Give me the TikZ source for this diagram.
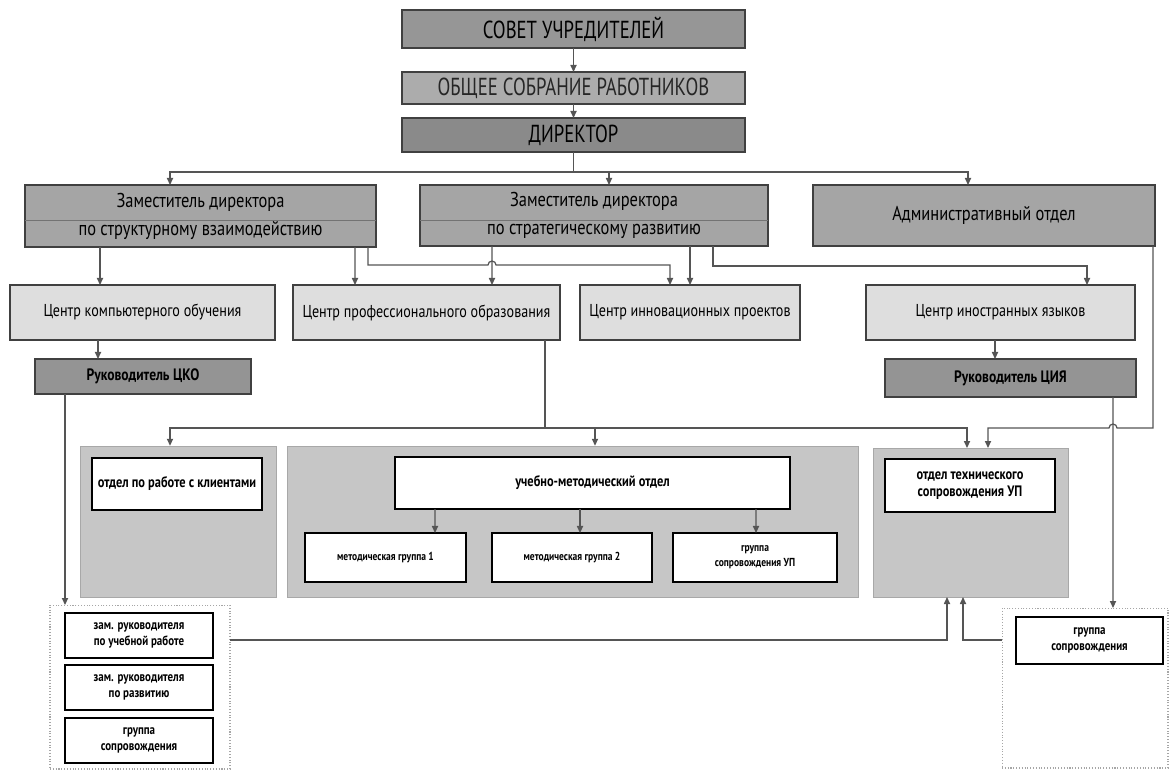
\documentclass[tikz,border=0pt]{standalone}
\usepackage{fontspec}
\setmainfont{PT Sans}[FakeStretch=0.82]
\newfontfamily\capsfont{PT Sans}[FakeStretch=0.76]
\usetikzlibrary{arrows.meta,calc}

\definecolor{sovetgray}{RGB}{150,150,150}
\definecolor{sobrgray}{RGB}{172,172,172}
\definecolor{dirgray}{RGB}{138,138,138}
\definecolor{zamgray}{RGB}{165,165,165}
\definecolor{centrgray}{RGB}{222,222,222}
\definecolor{rukgray}{RGB}{148,148,148}
\definecolor{panelgray}{RGB}{198,198,198}
\definecolor{linegray}{RGB}{85,85,85}

\tikzset{
    box/.style = {draw = black!75, line width = 0.7pt, inner sep = 0pt, outer sep = 0pt, align = center},
    topbox/.style = {box, minimum width = 6.86cm, font = \capsfont\fontsize{14}{16}\selectfont},
    zambox/.style = {box, fill = zamgray, font = \fontsize{11.4}{16}\selectfont},
    centrbox/.style = {box, fill = centrgray, minimum height = 1.1cm, font = \fontsize{9.8}{11}\selectfont},
    rukbox/.style = {box, fill = rukgray, font = \bfseries\fontsize{9.4}{11}\selectfont},
    panel/.style = {fill = panelgray, draw = panelgray!85!black, line width = 0.3pt, inner sep = 0pt, outer sep = 0pt, minimum height = 3.03cm},
    whitebox/.style = {draw = black, fill = white, line width = 1.3pt, inner sep = 0pt, outer sep = 0pt, align = center, font = \bfseries\fontsize{8.6}{9.4}\selectfont},
    smallbox/.style = {whitebox, font = \bfseries\fontsize{6.6}{8.6}\selectfont},
    zbox/.style = {whitebox, font = \bfseries\fontsize{7.6}{9}\selectfont},
    dotbox/.style = {draw = gray!70, densely dotted, line width = 0.6pt, fill = white, inner sep = 0pt, outer sep = 0pt},
    line/.style = {draw = linegray, line width = 0.7pt},
    arr/.style = {line, -{Triangle[length = 4pt, width = 3.5pt]}},
    sepline/.style = {draw = black!55, line width = 0.5pt}
}

\begin{document}
\begin{tikzpicture}[x = 0.02cm, y = -0.02cm]
    \useasboundingbox (0, 0) rectangle (1169, 769);

    % top of the structure
    \node [topbox, fill = sovetgray, minimum height = 0.76cm] (sovet) at (573.5, 29) {СОВЕТ УЧРЕДИТЕЛЕЙ};
    \node [topbox, fill = sobrgray, minimum height = 0.64cm, text = black!85] (sobranie) at (573.5, 88) {ОБЩЕЕ СОБРАНИЕ РАБОТНИКОВ};
    \node [topbox, fill = dirgray, minimum height = 0.68cm] (direktor) at (573.5, 135) {ДИРЕКТОР};

    \draw [arr] (sovet.south) -- (sobranie.north);
    \draw [arr] (sobranie.south) -- (direktor.north);

    % deputies
    \node [zambox, minimum width = 7.02cm, minimum height = 1.24cm] (zam1) at (200.5, 216)
        {Заместитель директора\\по структурному взаимодействию};
    \node [zambox, minimum width = 6.96cm, minimum height = 1.22cm] (zam2) at (594, 215.5)
        {Заместитель директора\\по стратегическому развитию};
    \node [zambox, minimum width = 6.84cm, minimum height = 1.22cm] (adm) at (984, 215.5)
        {Административный отдел};
    \draw [sepline] ([yshift = -2.8pt]zam1.west) -- ([yshift = -2.8pt]zam1.east);
    \draw [sepline] ([yshift = -3pt]zam2.west) -- ([yshift = -3pt]zam2.east);

    \draw [line] (direktor.south) -- ++(0, 20) coordinate (dbus);
    \draw [arr] (dbus) -| ($(zam1.north) + (-30.5, 0)$);
    \draw [arr] (dbus) -| ($(zam2.north) + (15, 0)$);
    \draw [arr] (dbus) -| ($(adm.north) + (-16, 0)$);

    % centres
    \node [centrbox, minimum width = 5.3cm] (cko) at (142.5, 312.5) {Центр компьютерного обучения};
    \node [centrbox, minimum width = 5.34cm] (cpo) at (426.5, 312.5) {Центр профессионального образования};
    \node [centrbox, minimum width = 4.4cm] (cip) at (690, 312.5) {Центр инновационных проектов};
    \node [centrbox, minimum width = 5.38cm] (ciya) at (1000.5, 312.5) {Центр иностранных языков};

    \draw [arr] ($(zam1.south) + (-100.5, 0)$) -- ($(cko.north) + (-42.5, 0)$);
    \draw [arr] ($(zam1.south) + (154.5, 0)$) -- ($(cpo.north) + (-71.5, 0)$);
    \draw [arr] ($(zam1.south) + (167.5, 0)$) -- ++(0, 18) -- (488, 265)
        arc [start angle = 180, end angle = 0, radius = 0.08cm] -| ($(cip.north) + (-20, 0)$);
    \draw [arr] ($(zam2.south) + (-102, 0)$) -- ($(cpo.north) + (65.5, 0)$);
    \draw [arr] ($(zam2.south) + (96, 0)$) -- (cip.north);
    \draw [arr] ($(zam2.south) + (119, 0)$) -- ++(0, 20) -| ($(ciya.north) + (86.5, 0)$);

    % heads of centres
    \node [rukbox, minimum width = 4.32cm, minimum height = 0.7cm] (rukcko) at (143, 376.5) {Руководитель ЦКО};
    \node [rukbox, minimum width = 5.02cm, minimum height = 0.76cm] (rukciya) at (1010.5, 378) {Руководитель ЦИЯ};

    \draw [arr] ($(cko.south) + (-44.5, 0)$) -- ($(rukcko.north) + (-45, 0)$);
    \draw [arr] ($(ciya.south) + (-5.5, 0)$) -- ($(rukciya.north) + (-15.5, 0)$);

    % departments
    \node [panel, minimum width = 3.92cm] (panA) at (178, 521.5) {};
    \node [panel, minimum width = 11.42cm] (panB) at (572.5, 521.5) {};
    \node [panel, minimum width = 3.9cm, minimum height = 2.98cm] (panC) at (970.5, 522.5) {};

    \node [whitebox, minimum width = 3.4cm, minimum height = 1.04cm] (klient) at (177, 484) {отдел по работе с клиентами};
    \node [whitebox, minimum width = 7.9cm, minimum height = 1.04cm] (umo) at (592.5, 483) {учебно-методический отдел};
    \node [smallbox, minimum width = 3.22cm, minimum height = 0.98cm] (mg1) at (385.5, 557.5) {методическая группа 1};
    \node [smallbox, minimum width = 3.2cm, minimum height = 0.98cm] (mg2) at (572, 557.5) {методическая группа 2};
    \node [smallbox, minimum width = 3.28cm, minimum height = 0.98cm] (gsup) at (755, 557.5) {группа\\сопровождения УП};
    \node [whitebox, minimum width = 3.4cm, minimum height = 1.06cm] (tech) at (970, 485.5) {отдел технического\\сопровождения УП};

    \draw [arr] ($(umo.south) + (-157.5, 0)$) -- ($(mg1.north) + (49.5, 0)$);
    \draw [arr] ($(umo.south) + (-12.5, 0)$) -- ($(mg2.north) + (8, 0)$);
    \draw [arr] ($(umo.south) + (163.5, 0)$) -- ($(gsup.north) + (1, 0)$);

    \draw [line] ($(cpo.south) + (118.5, 0)$) -- ++(0, 88) coordinate (cbus);
    \draw [arr] (cbus) -| ($(panA.north) + (-8, 0)$);
    \draw [arr] (cbus) -| ($(panB.north) + (22.5, 0)$);
    \draw [arr] (cbus) -| ($(panC.north) + (-3.5, 0)$);
    \draw [arr] ($(adm.south) + (169, 0)$) -- ++(0, 182) -- (1117, 428)
        arc [start angle = 0, end angle = 180, radius = 0.08cm] -| ($(panC.north) + (17.5, 0)$);

    % groups at the bottom
    \node [dotbox, minimum width = 3.6cm, minimum height = 3.28cm] (leftbox) at (140, 687) {};
    \node [zbox, minimum width = 2.96cm, minimum height = 0.9cm] (z1) at (139, 635.5) {зам. руководителя\\по учебной работе};
    \node [zbox, minimum width = 2.96cm, minimum height = 0.9cm] (z2) at (139, 687.5) {зам. руководителя\\по развитию};
    \node [zbox, minimum width = 2.96cm, minimum height = 0.9cm] (z3) at (139, 740.5) {группа\\сопровождения};

    \node [dotbox, minimum width = 3.32cm, minimum height = 3.2cm] (rightbox) at (1085, 688) {};
    \node [zbox, minimum width = 2.94cm, minimum height = 0.94cm] (gs2) at (1089.5, 640.5) {группа\\сопровождения};

    \draw [arr] ($(rukcko.south) + (-78, 0)$) -- ($(leftbox.north) + (-75, 0)$);
    \draw [arr] ($(rukciya.south) + (102.5, 0)$) -- ($(rightbox.north) + (28, 0)$);
    \draw [arr] ($(leftbox.east) + (0, -47)$) -| ($(panC.south) + (-23.5, 0)$);
    \draw [arr] ($(rightbox.west) + (0, -48)$) -| ($(panC.south) + (-7.5, 0)$);
\end{tikzpicture}
\end{document}
